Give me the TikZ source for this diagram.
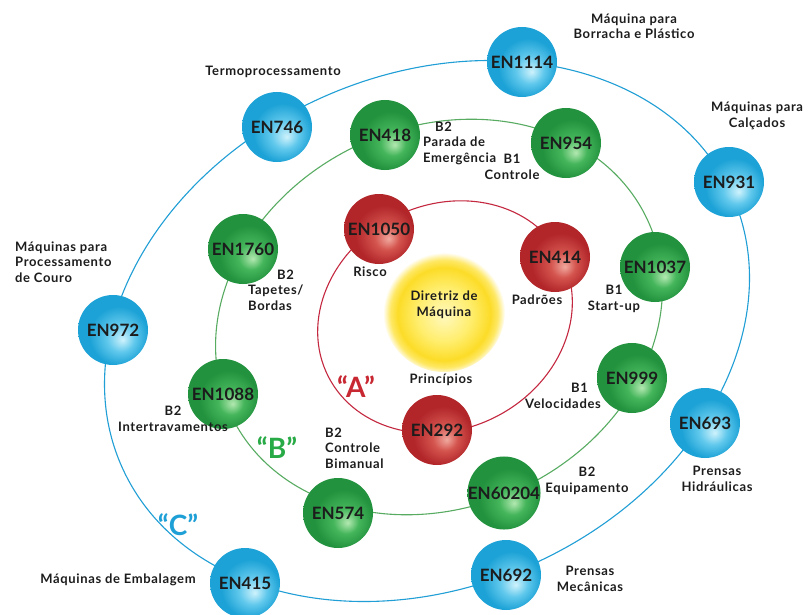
\documentclass[tikz,border=0pt]{standalone}
\usepackage{fontspec}
\setmainfont{Lato}
\newfontfamily\lblfont{Lato}[LetterSpace=5]
\definecolor{txt}{RGB}{28,28,28}
\definecolor{redorbit}{RGB}{196,40,64}
\definecolor{greenorbit}{RGB}{88,172,98}
\definecolor{blueorbit}{RGB}{32,158,214}
\definecolor{quoteA}{RGB}{200,40,50}
\definecolor{quoteB}{RGB}{40,170,70}
\definecolor{quoteC}{RGB}{30,160,215}
% sphere colours
\definecolor{rlight}{RGB}{240,168,158}
\definecolor{rmid}{RGB}{212,84,78}
\definecolor{rdark}{RGB}{178,38,42}
\definecolor{glight}{RGB}{178,232,176}
\definecolor{gmid}{RGB}{70,182,92}
\definecolor{gdark}{RGB}{34,146,62}
\definecolor{blight}{RGB}{206,242,252}
\definecolor{bmid}{RGB}{96,200,236}
\definecolor{bdark}{RGB}{28,162,214}
\definecolor{sun1}{RGB}{255,248,190}
\definecolor{sun2}{RGB}{255,238,110}
\definecolor{sun3}{RGB}{252,220,40}
\definecolor{sun4}{RGB}{254,232,100}
\pgfdeclareradialshading{redsphere}{\pgfpoint{7bp}{-7bp}}{color(0bp)=(rlight); color(9bp)=(rmid); color(21bp)=(rdark); color(25bp)=(rdark); color(50bp)=(rdark)}
\pgfdeclareradialshading{greensphere}{\pgfpoint{7bp}{-7bp}}{color(0bp)=(glight); color(9bp)=(gmid); color(21bp)=(gdark); color(25bp)=(gdark); color(50bp)=(gdark)}
\pgfdeclareradialshading{bluesphere}{\pgfpoint{7bp}{-7bp}}{color(0bp)=(blight); color(10bp)=(bmid); color(21bp)=(bdark); color(25bp)=(bdark); color(50bp)=(bdark)}
\pgfdeclareradialshading{sunglow}{\pgfpoint{0bp}{-2bp}}{color(0bp)=(sun1); color(11bp)=(sun2); color(19bp)=(sun3); color(22bp)=(sun4); color(25bp)=(white); color(50bp)=(white)}
\begin{document}
\begin{tikzpicture}[x=1pt,y=-1pt,
  orbit/.style={line width=1.1pt},
  sphere/.style={circle, minimum size=70pt, inner sep=0pt, text=txt,
    font=\bfseries\fontsize{17}{17}\selectfont},
  redball/.style={sphere, shading=redsphere},
  greenball/.style={sphere, shading=greensphere},
  blueball/.style={sphere, shading=bluesphere},
  lbl/.style={font=\lblfont\bfseries\fontsize{13}{15.5}\selectfont, text=txt, align=center, inner sep=0pt},
  quote/.style={font=\bfseries\fontsize{28}{28}\selectfont, inner sep=0pt}]
\useasboundingbox[fill=white] (0,0) rectangle (808,615);

% orbits
\draw[orbit, blueorbit, rotate around={24:(427,331)}] (427,331) ellipse [x radius=334pt, y radius=256pt];
\draw[orbit, greenorbit, rotate around={25:(439,317)}] (439,317) ellipse [x radius=230pt, y radius=190pt];
\draw[orbit, redorbit, rotate around={27:(445,317)}] (445,317) ellipse [x radius=131pt, y radius=112pt];

% centre
\node[circle, minimum size=122pt, inner sep=0pt, shading=sunglow] (sun) at (444,311) {};
\node[lbl] (dir) at (444,305) {Diretriz de\\Máquina};

% A-level spheres
\node[redball] (n1050) at (379,229) {EN1050};
\node[redball] (n414) at (555,257) {EN414};
\node[redball] (n292) at (437,430) {EN292};

% B-level spheres
\node[greenball] (n418) at (385,135) {EN418};
\node[greenball] (n954) at (566,143) {EN954};
\node[greenball] (n1037) at (655,267) {EN1037};
\node[greenball] (n999) at (632,378) {EN999};
\node[greenball] (n60204) at (504,493) {EN60204};
\node[greenball] (n574) at (338,513) {EN574};
\node[greenball] (n1088) at (223,394) {EN1088};
\node[greenball] (n1760) at (243,249) {EN1760};

% C-level spheres
\node[blueball] (n1114) at (522,62) {EN1114};
\node[blueball] (n746) at (277,127) {EN746};
\node[blueball] (n972) at (113,330) {EN972};
\node[blueball] (n415) at (245,583) {EN415};
\node[blueball] (n692) at (506,575) {EN692};
\node[blueball] (n693) at (705,423) {EN693};
\node[blueball] (n931) at (729,182) {EN931};

% level letters
\node[quote, text=quoteA] (qa) at (356,387) {“A”};
\node[quote, text=quoteB] (qb) at (277,448) {“B”};
\node[quote, text=quoteC] (qc) at (178,525) {“C”};

% descriptions
\node[lbl] (lrisco) at (370,272) {Risco};
\node[lbl] (lpadroes) at (537,300) {Padrões};
\node[lbl] (lprinc) at (441,380) {Princípios};
\node[lbl, align=left, anchor=west] (lparada) at (423,143) {\hspace*{12pt}B2\\Parada de\\Emergência};
\node[lbl] (lcontrole) at (512,167) {B1\\Controle};
\node[lbl, align=left, anchor=west] (ltapetes) at (248,290) {\hspace*{29pt}B2\\Tapetes/\\Bordas};
\node[lbl] (linter) at (173,419) {B2\\Intertravamentos};
\node[lbl, align=left, anchor=west] (lbiman) at (325,448) {B2\\Controle\\Bimanual};
\node[lbl] (lstart) at (614,299) {B1\\Start-up};
\node[lbl, align=right, anchor=east] (lveloc) at (601,396) {B1\hspace*{13pt}\\Velocidades};
\node[lbl] (lequip) at (587,481) {B2\\Equipamento};
\node[lbl] (lborr) at (634,26) {Máquina para\\Borracha e Plástico};
\node[lbl] (lcalc) at (757,116) {Máquinas para\\Calçados};
\node[lbl] (ltermo) at (273,72) {Termoprocessamento};
\node[lbl, align=left, anchor=west] (lcouro) at (15,262) {Máquinas para\\Processamento\\de Couro};
\node[lbl] (lhidr) at (717,479) {Prensas\\Hidráulicas};
\node[lbl] (lmec) at (590,579) {Prensas\\Mecânicas};
\node[lbl] (lemb) at (118,580) {Máquinas de Embalagem};
\end{tikzpicture}
\end{document}
